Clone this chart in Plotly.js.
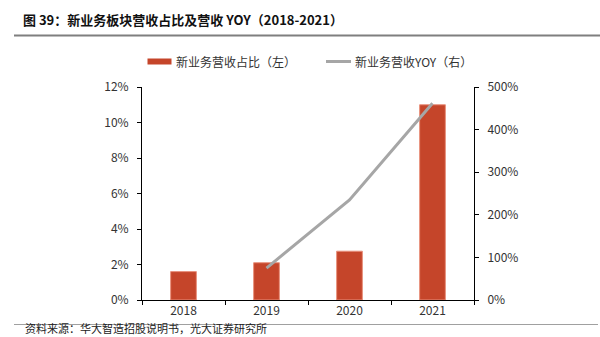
<!DOCTYPE html>
<html><head><meta charset="utf-8">
<script src="https://cdn.plot.ly/plotly-3.0.1.min.js"></script>
<style>html,body{margin:0;padding:0;background:#fff;}#chart{width:600px;height:337px;}</style>
</head><body><div id="chart"></div>
<script>
const years = ['2018','2019','2020','2021'];
const sharePct = [1.6, 2.1, 2.75, 11.0];          // 新业务营收占比（左）%
const yoyYears = ['2019','2020','2021'];
const yoyPct = [75, 235, 462];                     // 新业务营收YOY（右）%
const leftTicks = [0,2,4,6,8,10,12];
const rightTicks = [0,100,200,300,400,500];

const FONT = '"Noto Sans CJK SC", "Noto Sans", sans-serif';
const L = 142, R = 474, T = 87, B = 300;
const px = x => (x - L) / (R - L);
const py = y => (B - y) / (B - T);

const traces = [
  {type:'bar', x: years, y: sharePct, name:'新业务营收占比（左）',
   marker:{color:'#C5452A', line:{color:'#E8907C', width:1}}, yaxis:'y', showlegend:false, hoverinfo:'none'},
  {type:'scatter', mode:'lines', x: yoyYears, y: yoyPct, name:'新业务营收YOY（右）',
   line:{color:'#A6A6A6', width:3}, yaxis:'y2', showlegend:false, hoverinfo:'none'}
];

const layout = {
  width:600, height:337,
  margin:{l:L, r:600-R, t:T, b:337-B, pad:0},
  paper_bgcolor:'#fff', plot_bgcolor:'#fff',
  font:{family:FONT, size:12, color:'#333'},
  bargap:0.69,
  xaxis:{type:'category', showline:true, linecolor:'#000', linewidth:1, ticks:'outside', ticklen:4, tickcolor:'#000',
    tickson:'boundaries', showgrid:false, tickfont:{size:12, color:'#333'}, zeroline:false, fixedrange:true},
  yaxis:{range:[0,12], tickvals:leftTicks, ticktext:leftTicks.map(v=>v+'%'), showline:true, linecolor:'#000', linewidth:1,
    ticks:'outside', ticklen:4, tickcolor:'#000', showgrid:false, zeroline:false, tickfont:{size:12, color:'#333'}, ticklabelstandoff:6},
  yaxis2:{range:[0,500], tickvals:rightTicks, ticktext:rightTicks.map(v=>v+'%'), overlaying:'y', side:'right', showline:true,
    linecolor:'#000', linewidth:1, ticks:'outside', ticklen:4, tickcolor:'#000', showgrid:false, zeroline:false, tickfont:{size:12, color:'#333'}, ticklabelstandoff:6},
  shapes:[
    {type:'line', xref:'paper', yref:'paper', x0:px(14), x1:px(600), y0:py(35.5), y1:py(35.5), line:{color:'#7F7F7F', width:2}},
    {type:'line', xref:'paper', yref:'paper', x0:px(14), x1:px(598), y0:py(324.5), y1:py(324.5), line:{color:'#A0A0A0', width:1.2}},
    {type:'rect', xref:'paper', yref:'paper', x0:px(147.5), x1:px(171.5), y0:py(58.5), y1:py(64.5), fillcolor:'#C5452A', line:{width:0}},
    {type:'line', xref:'paper', yref:'paper', x0:px(326), x1:px(351), y0:py(61.5), y1:py(61.5), line:{color:'#A6A6A6', width:3}}
  ],
  annotations:[
    {xref:'paper', yref:'paper', x:px(21), y:py(20), xanchor:'left', yanchor:'middle', showarrow:false,
     text:'<b>图 39：新业务板块营收占比及营收 YOY（2018-2021）</b>', font:{family:FONT, size:13, color:'#111'}},
    {xref:'paper', yref:'paper', x:px(174), y:py(61.5), xanchor:'left', yanchor:'middle', showarrow:false,
     text:'新业务营收占比（左）', font:{family:FONT, size:12, color:'#333'}},
    {xref:'paper', yref:'paper', x:px(353), y:py(61.5), xanchor:'left', yanchor:'middle', showarrow:false,
     text:'新业务营收YOY（右）', font:{family:FONT, size:12, color:'#333'}},
    {xref:'paper', yref:'paper', x:px(24), y:py(328), xanchor:'left', yanchor:'middle', showarrow:false, borderpad:0,
     text:'资料来源：华大智造招股说明书，光大证券研究所', font:{family:FONT, size:11, color:'#222'}}
  ]
};
Plotly.newPlot('chart', traces, layout, {staticPlot:true, displayModeBar:false});
</script></body></html>
